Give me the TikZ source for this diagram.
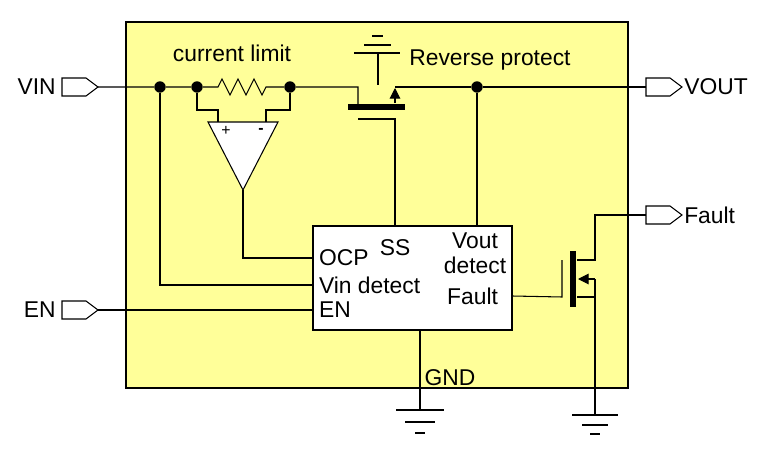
\documentclass[tikz,border=0pt]{standalone}
\usepackage{fontspec}
\setmainfont{Liberation Sans}
\usetikzlibrary{arrows.meta}
\definecolor{chipyellow}{RGB}{255,255,153}
\begin{document}
\begin{tikzpicture}[x=0.02cm,y=-0.02cm,line width=0.6pt,
                    every node/.style={font=\fontsize{13}{15}\selectfont},
                    dot/.style={circle,fill,inner sep=0pt,minimum size=6.5pt},
                    bar/.style={line width=3.5pt}]
                    \useasboundingbox (0,0) rectangle (769,450);
                    \fill[chipyellow] (126,22) rectangle (628,388);
                    \draw[line width=1.5pt] (126,22) rectangle (628,388);
                    % ports
                    \foreach \px/\py/\nm in {62/87/pin, 646/87/pout, 646/215/pflt, 62/310/pen}{
                        \draw[fill=white] (\px,\py-9) -- ++(24,0) -- ++(12,9) -- ++(-12,9) -- ++(-24,0) -- cycle;
                        \coordinate (\nm) at (\px,\py);
                        \coordinate (\nm-r) at (\px+36,\py);
                    }
                    \node[anchor=east] at (pin) {VIN};
                    \node[anchor=east] at (pen) {EN};
                    \node[anchor=west,inner sep=1pt] at (pout-r) {VOUT};
                    \node[anchor=west,inner sep=1pt] at (pflt-r) {Fault};
                    % control block
                    \node[draw,fill=white,minimum width=3.98cm,minimum height=2.08cm,inner sep=0pt] (blk) at (412.5,278) {};
                    \node[anchor=west,inner sep=2pt] (ocp) at (315,258) {OCP};
                    \node (ss) at (395,248) {SS};
                    \node[anchor=west,inner sep=2pt] (vind) at (315,285) {Vin detect};
                    \node[anchor=west,inner sep=2pt] (en) at (315,310) {EN};
                    \node[align=center] (voutd) at (475,253) {Vout\\[-1pt]detect};
                    \node[anchor=east,inner sep=2pt] (flt) at (502,296) {Fault};
                    % current sense
                    \node[dot] (d1) at (160,87) {};
                    \node[dot] (d2) at (197,87) {};
                    \node[dot] (d3) at (290,87) {};
                    \node[dot] (d4) at (477,87) {};
                    \node at (232,53) {current limit};
                    \draw (pin-r) -- (d1) -- (d2) -- (218,87)
                        -- (222,79) -- (230,95) -- (238,79) -- (246,95) -- (254,79) -- (262,95) -- (266,87) -- (d3) -- (358,87) -- (358,107);
                    \draw[fill=white] (208,122) -- (278,122) -- (243,190) -- cycle;
                    \node[font=\fontsize{9}{10}\selectfont] at (226,131) {+};
                    \node[font=\bfseries\fontsize{9}{10}\selectfont] at (261,131) {-};
                    \draw (d2) -- (197,110) -- (218,110) -- (218,122);
                    \draw (d3) -- (290,110) -- (266,110) -- (266,122);
                    \draw (243,190) |- (blk.west |- ocp);
                    \draw (d1) |- (blk.west |- vind);
                    \draw (pen-r) -- (blk.west |- en);
                    % reverse protect fet
                    \draw[bar] (348,107) -- (405,107);
                    \draw (358,119) -- (395,119) -- (395,226);
                    \draw (378,53) -- (378,85);
                    \draw (354,53) -- (400,53);
                    \draw (364,45) -- (391,45);
                    \draw (372,36) -- (383,36);
                    \draw[-{Triangle[length=6pt,width=6pt]}] (395,103) -- (395,88);
                    \draw (395,87) -- (d4) -- (pout);
                    \draw (d4) -- (477,226);
                    \node[anchor=west] at (403,60) {Reverse protect};
                    % fault fet
                    \draw (blk.east |- flt) -- (562,297) -- (562,260);
                    \draw[bar] (573,251) -- (573,307);
                    \draw (577,260) -- (595,260) |- (pflt);
                    \draw (577,297) -- (595,297);
                    \draw[-{Triangle[length=6pt,width=6pt]}] (595,279) -- (578,279);
                    \draw (595,279) -- (595,415);
                    \draw (572,415) -- (618,415) (582,425) -- (608,425) (590,434) -- (600,434);
                    % ground
                    \draw (420,330) -- (420,410);
                    \draw (396,410) -- (444,410) (405,422) -- (435,422) (415,433) -- (425,433);
                    \node at (450,378) {GND};
                \end{tikzpicture}
\end{document}
